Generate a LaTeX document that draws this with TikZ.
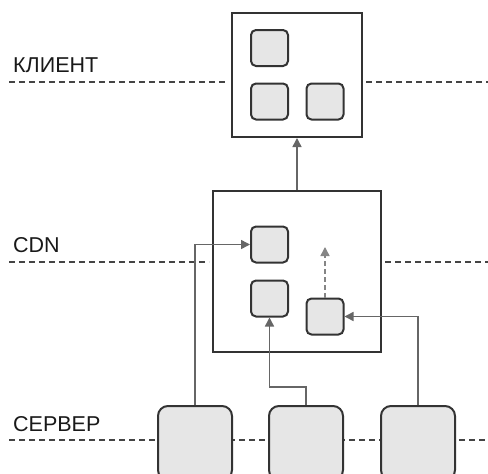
\documentclass[tikz,border=0pt]{standalone}
\usepackage{fontspec}
\setmainfont{Liberation Sans}
\usetikzlibrary{arrows.meta}
\definecolor{boxline}{HTML}{333333}
\definecolor{boxfill}{HTML}{E6E6E6}
\definecolor{conn}{HTML}{666666}
\definecolor{lvl}{HTML}{444444}
\begin{document}
\begin{tikzpicture}[x=1pt,y=-1pt,
  frame/.style={draw=boxline,line width=2pt,fill=white,inner sep=0pt},
  item/.style={draw=boxline,line width=2pt,fill=boxfill,rounded corners=5pt,minimum width=37pt,minimum height=36pt,inner sep=0pt},
  srv/.style={draw=boxline,line width=2pt,fill=boxfill,rounded corners=10pt,minimum width=74pt,minimum height=74pt,inner sep=0pt},
  level/.style={draw=lvl,line width=1.5pt,dash pattern=on 6pt off 4pt},
  link/.style={draw=conn,line width=1.5pt,-{Triangle[width=9pt,length=9pt]}},
  lbl/.style={anchor=base west,inner sep=0pt,text=black!90,font=\fontsize{21.5}{25}\selectfont}]
\useasboundingbox (0,0) rectangle (488,474);
% level lines
\draw[level] (9,82) -- (228,82);
\draw[level] (366,82) -- (488,82);
\draw[level] (9,262) -- (209,262);
\draw[level] (385,262) -- (488,262);
\draw[level] (9,440) -- (488,440);
% labels
\node[lbl] (lc) at (13,72) {КЛИЕНТ};
\node[lbl] (ld) at (13,252) {CDN};
\node[lbl] (ls) at (13,431) {СЕРВЕР};
% client
\node[frame,minimum width=130pt,minimum height=124pt] (client) at (297,75) {};
\node[item] (c1) at (269.5,48) {};
\node[item] (c2) at (269.5,101.5) {};
\node[item] (c3) at (325,101.5) {};
% cdn
\node[frame,minimum width=168pt,minimum height=161pt] (cdn) at (297,271.5) {};
\node[item] (d1) at (269.5,244.5) {};
\node[item] (d2) at (269.5,298.5) {};
\node[item] (d3) at (325,316.5) {};
% servers
\node[srv] (s1) at (195,443) {};
\node[srv] (s2) at (306,443) {};
\node[srv] (s3) at (418,443) {};
% connectors
\draw[link] (cdn.north) -- (client.south);
\draw[link] (s1.north) |- (d1.west);
\draw[link] (s2.north) -- ++(0,-18) -| (d2.south);
\draw[link] (s3.north) |- (d3.east);
\coordinate (dtop) at (325,247);
\draw[link,dash pattern=on 5pt off 3pt,draw=conn!80] (d3.north) -- (dtop);
\end{tikzpicture}
\end{document}
